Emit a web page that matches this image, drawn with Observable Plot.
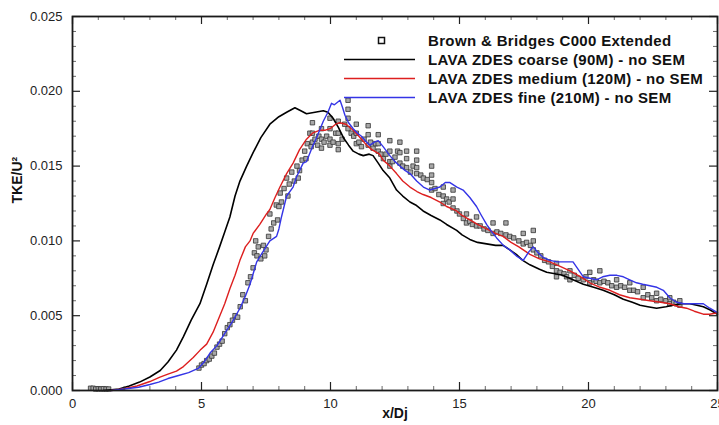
<!DOCTYPE html>
<html>
<head>
<meta charset="utf-8">
<script src="https://cdn.jsdelivr.net/npm/d3@7"></script>
<script src="https://cdn.jsdelivr.net/npm/@observablehq/plot@0.6"></script>
<style>
  html, body { margin: 0; padding: 0; background: #fff; }
  #wrap { position: relative; width: 719px; height: 425px; overflow: hidden; font-family: "Liberation Sans", Arial, sans-serif; }
  #legend { position: absolute; left: 343px; top: 31px; }
  .row { position: relative; height: 19px; }
  .row svg { position: absolute; left: 0; top: 0; }
  .row span { position: absolute; left: 85px; top: 0; line-height: 19px; font-size: 15px; letter-spacing: 0.35px; font-weight: bold; color: #111; white-space: nowrap; }
</style>
</head>
<body>
<div id="wrap"><div id="legend"></div></div>
<script>
// ---------- data ----------
const seriesNames = [
  "Brown & Bridges C000 Extended",
  "LAVA ZDES coarse (90M) - no SEM",
  "LAVA ZDES medium (120M) - no SEM",
  "LAVA ZDES fine (210M) - no SEM"
];
const xTicks = [0, 5, 10, 15, 20, 25];
const yTicks = [0, 0.005, 0.010, 0.015, 0.020, 0.025];

const coarse = [[1.2,0],[1.8,0.0001],[2.2,0.0003],[2.6,0.00056],[3.0,0.0009],[3.4,0.00134],[3.7,0.0019],[4.03,0.0027],[4.3,0.0036],[4.6,0.0047],[4.94,0.0058],[5.2,0.0071],[5.45,0.0084],[5.7,0.0096],[5.9,0.0106],[6.1,0.0116],[6.3,0.0130],[6.49,0.0140],[6.75,0.0150],[7.0,0.0159],[7.3,0.0169],[7.65,0.0178],[8.0,0.0183],[8.3,0.0186],[8.62,0.0189],[8.85,0.0187],[9.07,0.0185],[9.4,0.0186],[9.72,0.0187],[9.9,0.0186],[10.1,0.0182],[10.3,0.0176],[10.5,0.0169],[10.7,0.0164],[10.88,0.0160],[11.1,0.0158],[11.27,0.0157],[11.5,0.0158],[11.65,0.0157],[11.85,0.0152],[12.04,0.0147],[12.3,0.0142],[12.56,0.0134],[12.8,0.0130],[13.08,0.0126],[13.3,0.0124],[13.59,0.0120],[13.9,0.0117],[14.24,0.0114],[14.5,0.0111],[14.89,0.0107],[15.1,0.0104],[15.4,0.0101],[15.7,0.0099],[16.05,0.0098],[16.4,0.0097],[16.69,0.0097],[16.95,0.0094],[17.2,0.0091],[17.45,0.0087],[17.73,0.0084],[18.1,0.0081],[18.38,0.0079],[18.7,0.0078],[19.0,0.0077],[19.4,0.0074],[19.8,0.0071],[20.2,0.0069],[20.57,0.0067],[21.0,0.0064],[21.35,0.0061],[21.7,0.0059],[22.0,0.0057],[22.3,0.0056],[22.64,0.0055],[23.0,0.0056],[23.28,0.0057],[23.6,0.0058],[23.93,0.0058],[24.2,0.0057],[24.45,0.0056],[24.7,0.0054],[25,0.0051]];

const medium = [[1.5,0],[2.0,0.00012],[2.5,0.0003],[3.0,0.0006],[3.39,0.0009],[3.7,0.0011],[4.03,0.0013],[4.3,0.0016],[4.68,0.0022],[4.95,0.0027],[5.2,0.0031],[5.45,0.0039],[5.71,0.0050],[5.9,0.0058],[6.1,0.0068],[6.3,0.0077],[6.49,0.0087],[6.7,0.0096],[6.88,0.0100],[7.0,0.0105],[7.26,0.0111],[7.52,0.0118],[7.65,0.0121],[7.85,0.0129],[8.04,0.0136],[8.3,0.0145],[8.55,0.0152],[8.8,0.0161],[9.07,0.0168],[9.3,0.0172],[9.59,0.0174],[9.8,0.0174],[9.98,0.0175],[10.2,0.0178],[10.36,0.0179],[10.6,0.0178],[10.88,0.0174],[11.1,0.0170],[11.4,0.0164],[11.6,0.0161],[11.9,0.0158],[12.04,0.0154],[12.3,0.0150],[12.56,0.0145],[12.8,0.0140],[13.08,0.0136],[13.35,0.0133],[13.59,0.0131],[13.9,0.0129],[14.24,0.0126],[14.5,0.0123],[14.89,0.0120],[15.1,0.0117],[15.4,0.0114],[15.7,0.0111],[16.05,0.0108],[16.4,0.0105],[16.69,0.0103],[17.0,0.0099],[17.3,0.0096],[17.73,0.0091],[18.1,0.0088],[18.5,0.0086],[18.9,0.0083],[19.28,0.0080],[19.7,0.0076],[20.05,0.0072],[20.45,0.0069],[20.83,0.0067],[21.2,0.0064],[21.6,0.0062],[22.0,0.0061],[22.38,0.0060],[22.8,0.0059],[23.15,0.0058],[23.5,0.0056],[23.8,0.0055],[24.1,0.0053],[24.45,0.0051],[24.7,0.0051],[25,0.0052]];

const fine = [[1.5,0],[2.0,0.0001],[2.56,0.00022],[3.0,0.0004],[3.34,0.00056],[3.7,0.0008],[4.11,0.0010],[4.5,0.0012],[4.89,0.0015],[5.1,0.0019],[5.33,0.0025],[5.6,0.0030],[5.97,0.0040],[6.2,0.0046],[6.49,0.0055],[6.7,0.0063],[6.88,0.0071],[7.14,0.0086],[7.39,0.0093],[7.65,0.0100],[7.91,0.0103],[8.0,0.0108],[8.1,0.0116],[8.3,0.0130],[8.55,0.0136],[8.69,0.0143],[8.94,0.0152],[9.07,0.0153],[9.3,0.0163],[9.46,0.0169],[9.72,0.0180],[9.9,0.0186],[10.04,0.0192],[10.15,0.0191],[10.37,0.0194],[10.47,0.0189],[10.56,0.0184],[10.7,0.0179],[10.88,0.0175],[11.05,0.0172],[11.2,0.0170],[11.35,0.0167],[11.53,0.0164],[11.7,0.0166],[11.85,0.0167],[12.04,0.0163],[12.3,0.0157],[12.5,0.0153],[12.69,0.0150],[12.9,0.0147],[13.08,0.0145],[13.34,0.0140],[13.6,0.0136],[13.85,0.0134],[14.05,0.0135],[14.24,0.0136],[14.45,0.0139],[14.63,0.0139],[14.9,0.0136],[15.14,0.0134],[15.4,0.0129],[15.66,0.0123],[15.85,0.0117],[16.05,0.0111],[16.25,0.0106],[16.44,0.0102],[16.7,0.0097],[16.95,0.0094],[17.2,0.0090],[17.47,0.0087],[17.7,0.0093],[17.86,0.0096],[18.05,0.0092],[18.24,0.0089],[18.5,0.0087],[18.8,0.0086],[19.02,0.0086],[19.4,0.0086],[19.6,0.0081],[19.8,0.0076],[20.05,0.0075],[20.31,0.0074],[20.55,0.0076],[20.83,0.0077],[21.1,0.0077],[21.35,0.0076],[21.6,0.0074],[21.86,0.0072],[22.1,0.0071],[22.38,0.0070],[22.65,0.0069],[22.9,0.0067],[23.15,0.0062],[23.41,0.0059],[23.7,0.0058],[23.93,0.0058],[24.2,0.0058],[24.45,0.0058],[24.7,0.0055],[25,0.0052]];

const experiment = [[0.7,0.00015],[0.8,0.00015],[0.9,0.0001],[1.0,0.00012],[1.1,0.0001],[1.2,0.00012],[1.3,0.0001],[1.4,0.0001],
[4.9,0.0015],[5.0,0.0017],[5.1,0.0018],[5.2,0.0020],[5.3,0.0021],[5.4,0.0023],[5.5,0.0025],[5.6,0.0029],[5.7,0.0031],[5.8,0.0033],[5.9,0.0038],[6.0,0.0042],[6.1,0.0044],[6.2,0.0047],[6.3,0.0050],[6.4,0.0049],[6.5,0.0056],[6.6,0.0064],[6.7,0.0060],[6.8,0.0072],[6.9,0.0076],[7.0,0.0082],[7.05,0.0092],[7.1,0.0100],[7.15,0.0090],[7.2,0.0096],[7.3,0.0088],[7.4,0.0097],[7.45,0.0090],[7.5,0.0094],[7.6,0.0103],[7.65,0.0118],[7.7,0.0108],[7.8,0.0112],[7.9,0.0124],[7.95,0.0114],[8.0,0.0123],[8.05,0.0132],[8.1,0.0126],[8.2,0.0135],[8.3,0.0142],[8.35,0.0130],[8.4,0.0138],[8.5,0.0146],[8.6,0.0140],[8.7,0.0150],[8.75,0.0142],[8.8,0.0147],[8.9,0.0154],[9.0,0.0160],[9.05,0.0155],[9.1,0.0165],[9.2,0.0172],[9.25,0.0163],
[9.3,0.0179],[9.3,0.0172],[9.3,0.0166],[9.4,0.0168],[9.5,0.0164],[9.55,0.0170],[9.65,0.0175],[9.65,0.0168],[9.65,0.0162],[9.75,0.0166],[9.85,0.0170],[9.98,0.0182],[9.98,0.0175],[9.98,0.0168],[9.98,0.0164],[10.1,0.0166],[10.2,0.0172],[10.3,0.0180],[10.3,0.0172],[10.3,0.0165],[10.3,0.0161],[10.45,0.0168],[10.55,0.0178],[10.68,0.0194],[10.68,0.0188],[10.68,0.0182],[10.68,0.0175],[10.8,0.0172],[10.9,0.0170],[11.0,0.0178],[11.0,0.0172],[11.0,0.0165],[11.1,0.0166],[11.2,0.0163],[11.3,0.0168],[11.46,0.0177],[11.46,0.0171],[11.46,0.0164],[11.55,0.0166],[11.65,0.0162],[11.75,0.0165],[11.85,0.0171],[11.85,0.0165],[11.85,0.0160],[11.95,0.0158],[12.05,0.0155],[12.15,0.0158],[12.3,0.0167],[12.3,0.0160],[12.3,0.0153],[12.3,0.0150],[12.4,0.0153],[12.5,0.0156],[12.6,0.0160],[12.69,0.0166],[12.69,0.0159],[12.69,0.0152],[12.8,0.0150],[12.95,0.0160],[12.95,0.0155],[12.95,0.0149],[13.1,0.0146],[13.2,0.0150],[13.34,0.0160],[13.34,0.0154],[13.34,0.0149],[13.34,0.0145],[13.5,0.0144],[13.6,0.0142],[13.75,0.0141],[13.92,0.0150],[13.92,0.0144],[13.92,0.0139],[13.92,0.0134],[14.05,0.0135],[14.2,0.0131],[14.37,0.0136],[14.37,0.0130],[14.37,0.0125],[14.5,0.0128],[14.6,0.0126],[14.75,0.0134],[14.75,0.0128],[14.75,0.0122],[14.9,0.0120],[15.0,0.0118],[15.15,0.0115],[15.27,0.0118],[15.27,0.0112],[15.4,0.0113],[15.5,0.0111],[15.66,0.0116],[15.66,0.0110],[15.8,0.0110],[15.95,0.0108],[16.1,0.0107],[16.3,0.0112],[16.3,0.0105],[16.45,0.0106],[16.6,0.0105],[16.8,0.0112],[16.8,0.0104],[16.95,0.0103],[17.1,0.0102],[17.3,0.0100],[17.47,0.0105],[17.47,0.0098],[17.6,0.0099],[17.75,0.0097],[17.86,0.0107],[17.86,0.0100],[17.86,0.0094],[18.0,0.0092],[18.15,0.0090],[18.3,0.0087],[18.45,0.0086],[18.6,0.0083],[18.76,0.0085],[18.76,0.0080],[18.76,0.0076],[18.9,0.0079],[19.05,0.0078],[19.15,0.0076],[19.28,0.0080],[19.28,0.0074],[19.45,0.0077],[19.6,0.0075],[19.8,0.0074],[19.9,0.0076],[20.05,0.0079],[20.05,0.0072],[20.2,0.0074],[20.3,0.0073],[20.44,0.0080],[20.44,0.0072],[20.6,0.0073],[20.75,0.0072],[20.9,0.0070],[21.09,0.0074],[21.09,0.0069],[21.25,0.0070],[21.4,0.0069],[21.6,0.0072],[21.6,0.0067],[21.75,0.0067],[21.9,0.0066],[22.12,0.0069],[22.12,0.0062],[22.3,0.0064],[22.45,0.0062],[22.64,0.0065],[22.64,0.0060],[22.8,0.0061],[23.0,0.0060],[23.15,0.0062],[23.15,0.0058],[23.3,0.0059],[23.4,0.0058],[23.54,0.0060],[23.54,0.0057]];

const colors = ["#000000", "#000000", "#dd1f1f", "#3434e6"];

// ---------- chart ----------
const W = 719, H = 425, mL = 72, mR = 2, mT = 16, mB = 35;
const fw = W - mL - mR, fh = H - mT - mB;
const xMinor = d3.range(0, 26).filter(v => v % 5 !== 0);
const yMinor = d3.range(0, 26).filter(v => v % 5 !== 0).map(v => v / 1000);
const tickStyle = {stroke: "#222", strokeWidth: 1.2};

const chart = Plot.plot({
  width: W, height: H,
  marginLeft: mL, marginRight: mR, marginTop: mT, marginBottom: mB,
  style: {fontFamily: "'Liberation Sans', Arial, sans-serif", fontSize: "13px", color: "#222", background: "transparent", overflow: "visible"},
  x: {domain: [0, 25]},
  y: {domain: [0, 0.025]},
  marks: [
    Plot.dot(experiment, {x: d => d[0], y: d => d[1], symbol: "square", r: 2.5, fill: "#a8a8a8", stroke: "#333", strokeWidth: 0.8}),
    Plot.line(coarse, {x: d => d[0], y: d => d[1], stroke: colors[1], strokeWidth: 1.6}),
    Plot.line(medium, {x: d => d[0], y: d => d[1], stroke: colors[2], strokeWidth: 1.4}),
    Plot.line(fine, {x: d => d[0], y: d => d[1], stroke: colors[3], strokeWidth: 1.4}),
    // inward ticks
    Plot.tickX(xTicks, {x: d => d, insetTop: fh - 8, ...tickStyle}),
    Plot.tickX(xTicks, {x: d => d, insetBottom: fh - 8, ...tickStyle}),
    Plot.tickX(xMinor, {x: d => d, insetTop: fh - 4, stroke: "#444", strokeWidth: 0.8}),
    Plot.tickX(xMinor, {x: d => d, insetBottom: fh - 4, stroke: "#444", strokeWidth: 0.8}),
    Plot.tickY(yTicks, {y: d => d, insetRight: fw - 8, ...tickStyle}),
    Plot.tickY(yTicks, {y: d => d, insetLeft: fw - 8, ...tickStyle}),
    Plot.tickY(yMinor, {y: d => d, insetRight: fw - 4, stroke: "#444", strokeWidth: 0.8}),
    Plot.tickY(yMinor, {y: d => d, insetLeft: fw - 4, stroke: "#444", strokeWidth: 0.8}),
    Plot.frame({stroke: "#1a1a1a", strokeWidth: 1.8}),
    Plot.axisX({ticks: xTicks, tickSize: 0, tickPadding: 8, tickFormat: d3.format("d"), label: null, fontSize: 13}),
    Plot.axisY({ticks: yTicks, tickSize: 0, tickPadding: 10, tickFormat: d3.format(".3f"), label: null, fontSize: 13}),
    Plot.text(["x/Dj"], {frameAnchor: "bottom", dy: 27, text: d => d, fontWeight: "bold", fontSize: 14, fill: "#111"}),
    Plot.text(["TKE/U²"], {frameAnchor: "left", dx: -55, rotate: -90, text: d => d, fontWeight: "bold", fontSize: 14, fill: "#111"})
  ]
});
const wrap = document.getElementById("wrap");
wrap.insertBefore(chart, wrap.firstChild);

// ---------- legend ----------
const legend = document.getElementById("legend");
seriesNames.forEach((name, i) => {
  const row = document.createElement("div");
  row.className = "row";
  let sw;
  if (i === 0) {
    sw = `<svg width="80" height="19"><rect x="35.5" y="6.5" width="6" height="6" fill="none" stroke="#111" stroke-width="1.5"/></svg>`;
  } else {
    sw = `<svg width="80" height="19"><line x1="1" x2="72" y1="9.5" y2="9.5" stroke="${colors[i]}" stroke-width="1.6"/></svg>`;
  }
  row.innerHTML = sw + `<span>${name.replace(/&/g, "&amp;")}</span>`;
  legend.appendChild(row);
});
</script>
</body>
</html>
